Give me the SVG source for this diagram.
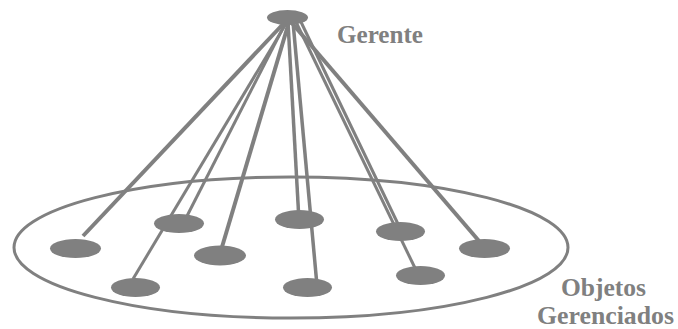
<svg xmlns="http://www.w3.org/2000/svg" width="678" height="329" viewBox="0 0 678 329">
  <style>
    .link { stroke: #808080; fill: none; stroke-linecap: butt; }
    .obj { fill: #808080; }
    .domain { fill: none; stroke: #808080; stroke-width: 3; }
    .label { font-family: "Liberation Serif", "Times New Roman", serif; font-weight: bold; font-size: 25px; fill: #808080; }
  </style>
  <rect width="678" height="329" fill="#ffffff"/>

  <!-- manager-to-object links -->
  <g id="connectors">
    <line class="link" x1="285" y1="22" x2="83" y2="236" stroke-width="4"/>
    <line class="link" x1="286" y1="22" x2="187" y2="216" stroke-width="3"/>
    <line class="link" x1="287" y1="22" x2="133" y2="279" stroke-width="3"/>
    <line class="link" x1="289" y1="22" x2="222" y2="247" stroke-width="4"/>
    <line class="link" x1="288" y1="22" x2="298.5" y2="212" stroke-width="3.5"/>
    <line class="link" x1="293" y1="22" x2="316.5" y2="280" stroke-width="3.5"/>
    <line class="link" x1="301" y1="22" x2="398" y2="224" stroke-width="3"/>
    <line class="link" x1="296" y1="22" x2="415" y2="268" stroke-width="3"/>
    <line class="link" x1="291" y1="22" x2="479" y2="241" stroke-width="4"/>
  </g>

  <!-- managed domain -->
  <g id="domain">
    <ellipse class="domain" cx="291" cy="247.5" rx="277" ry="70.5"/>
    <text class="label" x="561" y="296" textLength="85" lengthAdjust="spacingAndGlyphs">Objetos</text>
    <text class="label" x="537" y="324" textLength="137" lengthAdjust="spacingAndGlyphs">Gerenciados</text>
  </g>

  <!-- manager -->
  <g id="gerente">
    <ellipse class="obj" cx="287.5" cy="17.5" rx="20.5" ry="7.5"/>
    <text class="label" x="337" y="43" textLength="86" lengthAdjust="spacingAndGlyphs">Gerente</text>
  </g>

  <!-- managed objects -->
  <g id="obj1"><ellipse class="obj" cx="75.5" cy="248.5" rx="25.5" ry="9.5"/></g>
  <g id="obj2"><ellipse class="obj" cx="179" cy="223.5" rx="25" ry="9.5"/></g>
  <g id="obj3"><ellipse class="obj" cx="220" cy="255.5" rx="26" ry="10"/></g>
  <g id="obj4"><ellipse class="obj" cx="135.5" cy="287.5" rx="24.5" ry="9.5"/></g>
  <g id="obj5"><ellipse class="obj" cx="299.5" cy="219.5" rx="24.5" ry="9.5"/></g>
  <g id="obj6"><ellipse class="obj" cx="307.5" cy="287.5" rx="24.5" ry="9.5"/></g>
  <g id="obj7"><ellipse class="obj" cx="400.5" cy="231.5" rx="24.5" ry="9.5"/></g>
  <g id="obj8"><ellipse class="obj" cx="484.5" cy="248.5" rx="25.5" ry="9.5"/></g>
  <g id="obj9"><ellipse class="obj" cx="420.5" cy="275.5" rx="24.5" ry="9.5"/></g>
</svg>
